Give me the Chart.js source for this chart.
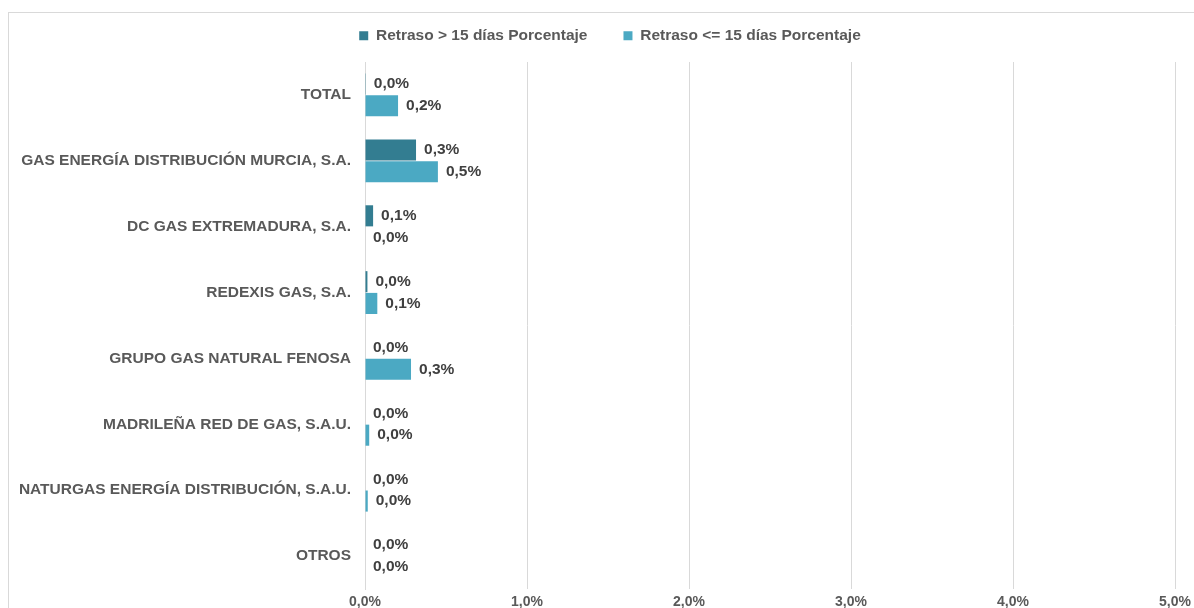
<!DOCTYPE html>
<html lang="es">
<head>
  <meta charset="UTF-8">
  <title>Retrasos por distribuidora</title>
  <script src="https://cdn.jsdelivr.net/npm/chart.js"></script>
  <style>
    html, body {
      margin: 0;
      padding: 0;
      overflow: hidden;
      background: #fff;
    }
    #box {
      position: absolute;
      left: 8px;
      top: 12px;
      width: 1200px;
      height: 620px;
      border: 1px solid #d9d9d9;
    }
  </style>
</head>
<body>
  <div id="box">
    <canvas id="retrasoChart" width="1200" height="610"></canvas>
  </div>

  <script>
    const empresas = [
      'TOTAL',
      'GAS ENERGÍA DISTRIBUCIÓN MURCIA, S.A.',
      'DC GAS EXTREMADURA, S.A.',
      'REDEXIS GAS, S.A.',
      'GRUPO GAS NATURAL FENOSA',
      'MADRILEÑA RED DE GAS, S.A.U.',
      'NATURGAS ENERGÍA DISTRIBUCIÓN, S.A.U.',
      'OTROS'
    ];
    const retrasoMas15 = [0.005, 0.315, 0.05, 0.015, 0.0, 0.0, 0.0, 0.0];
    const retrasoMenos15 = [0.204, 0.45, 0.0, 0.076, 0.284, 0.026, 0.017, 0.0];
    const ticksX = [0, 1, 2, 3, 4, 5];

    const FONT = 'Arial, "Liberation Sans", sans-serif';
    const fmt = v => v.toFixed(1).replace('.', ',') + '%';

    // etiquetas de valor al final de cada barra
    const valueLabels = {
      id: 'valueLabels',
      afterDatasetsDraw(chart) {
        const ctx = chart.ctx;
        ctx.save();
        ctx.font = 'bold 15.5px ' + FONT;
        ctx.fillStyle = '#404040';
        ctx.textAlign = 'left';
        ctx.textBaseline = 'middle';
        chart.data.datasets.forEach((ds, i) => {
          chart.getDatasetMeta(i).data.forEach((bar, j) => {
            ctx.fillText(fmt(ds.data[j]), bar.x + 8, bar.y);
          });
        });
        ctx.restore();
      }
    };

    // altura fija de la leyenda y pequeño desplazamiento para centrarla como en el original
    const legendPlace = {
      id: 'legendPlace',
      beforeLayout(chart) {
        const lg = chart.legend;
        if (lg && !lg._fitPatched) {
          const fit = lg.fit;
          lg.fit = function () {
            fit.call(this);
            this.height = 73;
          };
          lg._fitPatched = true;
        }
      },
      afterLayout(chart) {
        const lg = chart.legend;
        lg.left += 18;
        lg.right += 18;
        lg.top += 3;
        lg.bottom += 3;
      }
    };

    const ctx = document.getElementById('retrasoChart').getContext('2d');
    new Chart(ctx, {
      type: 'bar',
      data: {
        labels: empresas,
        datasets: [{
          label: 'Retraso > 15 días Porcentaje',
          data: retrasoMas15,
          backgroundColor: '#337D91',
          borderWidth: 0,
          barPercentage: 0.97,
          categoryPercentage: 0.66
        }, {
          label: 'Retraso <= 15 días Porcentaje',
          data: retrasoMenos15,
          backgroundColor: '#4BA9C3',
          borderWidth: 0,
          barPercentage: 0.97,
          categoryPercentage: 0.66
        }]
      },
      options: {
        indexAxis: 'y',
        responsive: false,
        animation: false,
        layout: {
          padding: { left: 0, right: 34, top: -24, bottom: 0 }
        },
        plugins: {
          legend: {
            display: true,
            position: 'top',
            labels: {
              boxWidth: 9,
              boxHeight: 9,
              padding: 36,
              color: '#595959',
              font: { family: FONT, size: 15.5, weight: 'bold' }
            }
          },
          tooltip: { enabled: false }
        },
        scales: {
          x: {
            min: 0,
            max: 5,
            afterBuildTicks: axis => {
              axis.ticks = ticksX.map(v => ({ value: v }));
            },
            afterFit: axis => { axis.height = 34; },
            grid: { color: '#d9d9d9', drawTicks: false },
            border: { display: false },
            ticks: {
              padding: 5,
              color: '#595959',
              font: { family: FONT, size: 14, weight: 'bold' },
              callback: v => fmt(v)
            }
          },
          y: {
            afterFit: axis => { axis.width = 356; },
            grid: { display: false, drawTicks: false },
            border: { display: true, color: '#d9d9d9' },
            ticks: {
              padding: 14,
              color: '#595959',
              font: { family: FONT, size: 15.5, weight: 'bold' }
            }
          }
        }
      },
      plugins: [valueLabels, legendPlace]
    });
  </script>
</body>
</html>
